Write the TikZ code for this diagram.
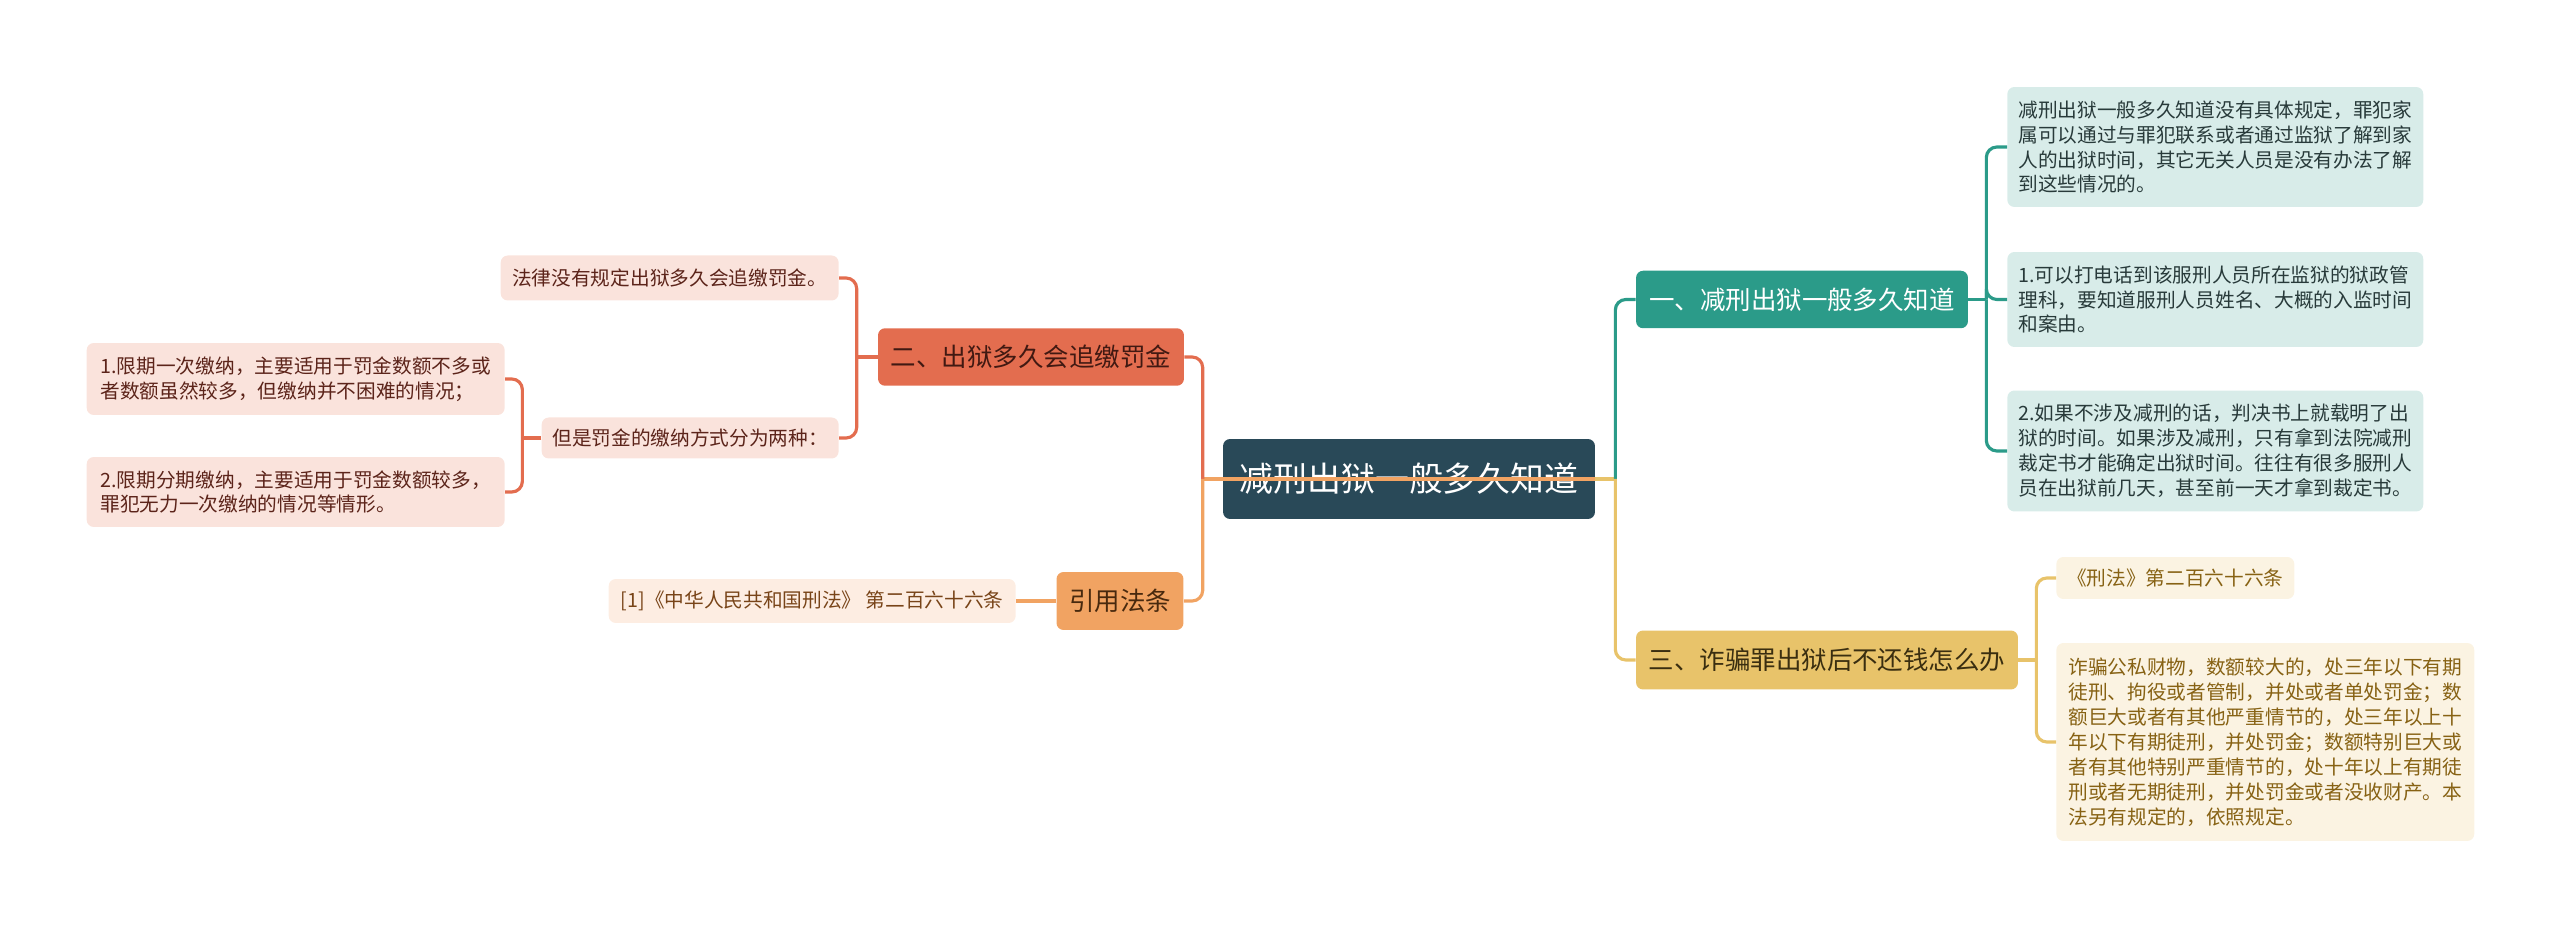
\documentclass[tikz,border=0pt]{standalone}
\usepackage{fontspec}
\setmainfont{Noto Sans CJK SC}
\usepackage{xcolor}
\definecolor{rootcol}{RGB}{41, 73, 88}
\definecolor{tealcol}{RGB}{43, 155, 137}
\definecolor{teallight}{RGB}{216, 236, 233}
\definecolor{tealtext}{RGB}{40, 58, 58}
\definecolor{yellowcol}{RGB}{232, 195, 106}
\definecolor{yellowlight}{RGB}{251, 243, 226}
\definecolor{yellowtext}{RGB}{135, 98, 20}
\definecolor{yellowdark}{RGB}{58, 46, 16}
\definecolor{redcol}{RGB}{227, 109, 79}
\definecolor{redlight}{RGB}{250, 227, 220}
\definecolor{redtext}{RGB}{92, 36, 26}
\definecolor{orangecol}{RGB}{241, 163, 98}
\definecolor{orangelight}{RGB}{253, 237, 226}
\definecolor{orangetext}{RGB}{120, 68, 24}
\usetikzlibrary{positioning}

\begin{document}
\begin{tikzpicture}[x=0.02cm, y=-0.02cm,
    box/.style={rounded corners=4pt, inner sep=0pt},
    rootnode/.style={box, fill=rootcol, text=white, font=\fontsize{19.3pt}{22pt}\selectfont, minimum width=7.44cm, minimum height=1.6cm},
    branch/.style={box, font=\fontsize{14.5pt}{17pt}\selectfont, minimum height=1.15cm},
    leaf/.style={box, font=\fontsize{11.2pt}{14.2pt}\selectfont, align=left},
    link/.style={line width=1.8pt, rounded corners=6pt}
]
\useasboundingbox (0,0) rectangle (2560,928);

% === Centro ===
\node[rootnode] (root) at (1409,479) {减刑出狱一般多久知道};

% === Rama 1 (derecha, arriba) ===
\node[branch, fill=tealcol, text=white, minimum width=6.64cm] (b1) at (1802,299.5) {一、减刑出狱一般多久知道};
\node[leaf, fill=teallight, text=tealtext, minimum width=8.32cm, minimum height=2.4cm, anchor=west] (t1) at (2007,147) {减刑出狱一般多久知道没有具体规定，罪犯家\\属可以通过与罪犯联系或者通过监狱了解到家\\人的出狱时间，其它无关人员是没有办法了解\\到这些情况的。};
\node[leaf, fill=teallight, text=tealtext, minimum width=8.32cm, minimum height=1.9cm, anchor=west] (t2) at (2007,299.5) {1.可以打电话到该服刑人员所在监狱的狱政管\\理科，要知道服刑人员姓名、大概的入监时间\\和案由。};
\node[leaf, fill=teallight, text=tealtext, minimum width=8.32cm, minimum height=2.42cm, anchor=west] (t3) at (2007,451) {2.如果不涉及减刑的话，判决书上就载明了出\\狱的时间。如果涉及减刑，只有拿到法院减刑\\裁定书才能确定出狱时间。往往有很多服刑人\\员在出狱前几天，甚至前一天才拿到裁定书。};

% === Rama 3 (derecha, abajo) ===
\node[branch, fill=yellowcol, text=yellowdark, minimum width=7.64cm, minimum height=1.18cm] (b3) at (1827,660) {三、诈骗罪出狱后不还钱怎么办};
\node[leaf, fill=yellowlight, text=yellowtext, minimum width=4.76cm, minimum height=0.84cm, anchor=west] (y1) at (2056,578) {《刑法》第二百六十六条};
\node[leaf, fill=yellowlight, text=yellowtext, minimum width=8.36cm, minimum height=3.96cm, anchor=west] (y2) at (2056,742) {诈骗公私财物，数额较大的，处三年以下有期\\徒刑、拘役或者管制，并处或者单处罚金；数\\额巨大或者有其他严重情节的，处三年以上十\\年以下有期徒刑，并处罚金；数额特别巨大或\\者有其他特别严重情节的，处十年以上有期徒\\刑或者无期徒刑，并处罚金或者没收财产。本\\法另有规定的，依照规定。};

% === Rama 2 (izquierda, arriba) ===
\node[branch, fill=redcol, text=redtext!70!black, minimum width=6.12cm] (b2) at (1031,357) {二、出狱多久会追缴罚金};
\node[leaf, fill=redlight, text=redtext, minimum width=6.76cm, minimum height=0.9cm, anchor=east] (r1) at (839,278) {法律没有规定出狱多久会追缴罚金。};
\node[leaf, fill=redlight, text=redtext, minimum width=5.94cm, minimum height=0.82cm, anchor=east] (r2) at (839,438) {但是罚金的缴纳方式分为两种：};
\node[leaf, fill=redlight, text=redtext, minimum width=8.36cm, minimum height=1.44cm, anchor=east] (r21) at (505,379) {1.限期一次缴纳，主要适用于罚金数额不多或\\者数额虽然较多，但缴纳并不困难的情况；};
\node[leaf, fill=redlight, text=redtext, minimum width=8.36cm, minimum height=1.4cm, anchor=east] (r22) at (505,492) {2.限期分期缴纳，主要适用于罚金数额较多，\\罪犯无力一次缴纳的情况等情形。};

% === Rama 4 (izquierda, abajo) ===
\node[branch, fill=orangecol, text=orangetext!60!black, minimum width=2.54cm, minimum height=1.16cm] (b4) at (1120,601) {引用法条};
\node[leaf, fill=orangelight, text=orangetext, minimum width=8.14cm, minimum height=0.88cm, anchor=east] (o1) at (1016,601) {[1]《中华人民共和国刑法》 第二百六十六条};

% === Conexiones ===
\draw[link, yellowcol] (root.east) -- ++(20,0) coordinate (rj);
\draw[link, tealcol] (rj) |- (b1.west);
\draw[link, yellowcol] (rj) |- (b3.west);
\draw[link, tealcol] (b1.east) -- ++(18,0) coordinate (tj);
\foreach \n in {t1,t2,t3} \draw[link, tealcol] (tj) |- (\n.west);
\draw[link, yellowcol] (b3.east) -- ++(18,0) coordinate (yj);
\foreach \n in {y1,y2} \draw[link, yellowcol] (yj) |- (\n.west);

\draw[link, orangecol] (root.east) -- (root.west) -- ++(-20,0) coordinate (lj);
\draw[link, redcol] (lj) |- (b2.east);
\draw[link, orangecol] (lj) |- (b4.east);
\draw[link, redcol] (b2.west) -- ++(-21,0) coordinate (bj);
\foreach \n in {r1,r2} \draw[link, redcol] (bj) |- (\n.east);
\draw[link, redcol] (r2.west) -- ++(-19,0) coordinate (sj);
\foreach \n in {r21,r22} \draw[link, redcol] (sj) |- (\n.east);
\draw[link, orangecol] (b4.west) -- (o1.east);

\end{tikzpicture}
\end{document}
